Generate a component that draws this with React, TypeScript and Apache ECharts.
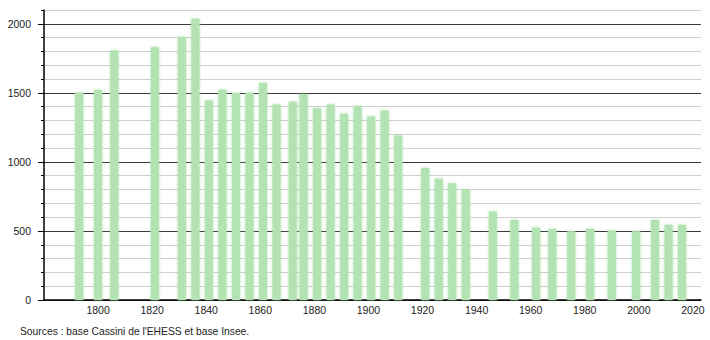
import React, { useEffect, useRef } from "react";
import * as echarts from "echarts";

const years = [1793, 1800, 1806, 1821, 1831, 1836, 1841, 1846, 1851, 1856, 1861, 1866, 1872, 1876, 1881, 1886, 1891, 1896, 1901, 1906, 1911, 1921, 1926, 1931, 1936, 1946, 1954, 1962, 1968, 1975, 1982, 1990, 1999, 2006, 2011, 2016];
const population = [1501, 1520, 1806, 1830, 1905, 2036, 1444, 1523, 1499, 1500, 1572, 1415, 1436, 1492, 1388, 1415, 1349, 1405, 1328, 1373, 1192, 955, 878, 846, 798, 641, 580, 525, 515, 498, 515, 503, 498, 580, 544, 544];
const yMajorTicks = [0, 500, 1000, 1500, 2000];
const sourceText = "Sources : base Cassini de l'EHESS et base Insee.";

const FONT = "'Liberation Sans', Arial, sans-serif";

export default function App() {
  const ref = useRef<HTMLDivElement>(null);
  useEffect(() => {
    if (!ref.current) return;
    const chart = echarts.init(ref.current, null, { renderer: "svg" });
    chart.setOption({
      animation: false,
      backgroundColor: "#ffffff",
      grid: { left: 44, right: 9, top: 10, bottom: 40, containLabel: false },
      xAxis: {
        type: "value",
        min: 1780,
        max: 2023,
        interval: 20,
        axisLine: { show: true, lineStyle: { color: "#000", width: 1.5 } },
        axisTick: { show: false },
        splitLine: { show: false },
        axisLabel: {
          showMinLabel: false,
          showMaxLabel: false,
          color: "#222",
          fontFamily: FONT,
          fontSize: 10.5,
          margin: 4,
          formatter: (v: number) => String(v),
        },
      },
      yAxis: [
        {
          type: "value",
          position: "left",
          min: 0,
          max: 2100,
          interval: 100,
          axisLine: { show: true, lineStyle: { color: "#000", width: 1.5 } },
          axisTick: { show: true, length: 3, lineStyle: { color: "#000" } },
          axisLabel: { show: false },
          splitLine: {
            show: true,
            lineStyle: {
              color: ["#3a3a3a", "#cfcfcf", "#cfcfcf", "#cfcfcf", "#cfcfcf"],
              width: 1.2,
            },
          },
        },
        {
          type: "value",
          position: "left",
          min: 0,
          max: 2100,
          interval: 100,
          axisLine: { show: false },
          axisTick: { show: true, length: 6, customValues: yMajorTicks, lineStyle: { color: "#000" } },
          axisLabel: {
            show: true,
            customValues: yMajorTicks,
            color: "#222",
            fontFamily: FONT,
            fontSize: 10.5,
            margin: 13,
            formatter: (v: number) => String(v),
          },
          splitLine: { show: false },
        },
      ],
      series: [
        {
          type: "bar",
          yAxisIndex: 0,
          barWidth: 8,
          data: years.map((y, i) => [y, population[i]]),
          itemStyle: {
            color: "#b3e3b3",
            shadowBlur: 3,
            shadowColor: "rgba(160,220,160,0.8)",
          },
        },
      ],
      graphic: [
        {
          type: "text",
          left: 20,
          top: 326,
          style: {
            text: sourceText,
            fill: "#222",
            font: `10.3px ${FONT}`,
          },
        },
      ],
    });
    return () => chart.dispose();
  }, []);
  return (
    <div
      ref={ref}
      style={{ position: "fixed", left: 0, top: 0, width: 710, height: 340 }}
    />
  );
}
